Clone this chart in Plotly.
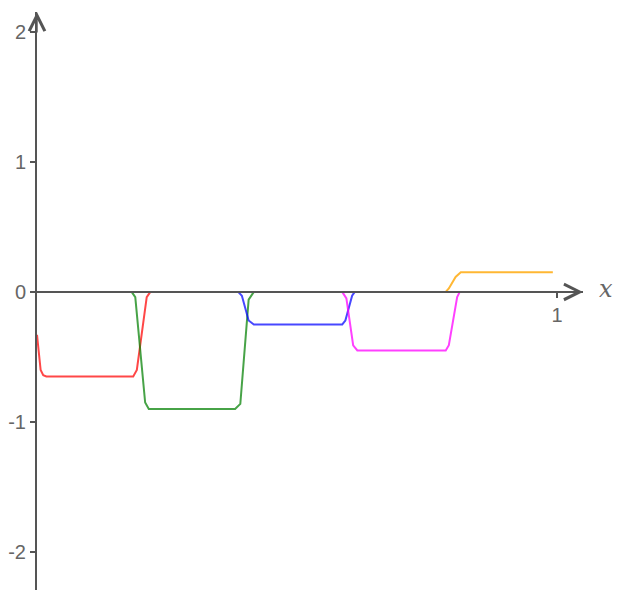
import plotly.graph_objects as go

# ---- data ----
red_x = [0.0, 0.007, 0.012, 0.018, 0.185, 0.192, 0.211, 0.218]
red_y = [-0.33, -0.60, -0.64, -0.65, -0.65, -0.60, -0.04, 0.0]

green_x = [0.182, 0.189, 0.208, 0.215, 0.381, 0.391, 0.407, 0.417]
green_y = [0.0, -0.04, -0.85, -0.9, -0.9, -0.86, -0.06, 0.0]

blue_x = [0.387, 0.394, 0.407, 0.417, 0.587, 0.593, 0.606, 0.611]
blue_y = [0.0, -0.03, -0.22, -0.25, -0.25, -0.22, -0.03, 0.0]

magenta_x = [0.587, 0.595, 0.608, 0.616, 0.786, 0.792, 0.808, 0.813]
magenta_y = [0.0, -0.05, -0.41, -0.45, -0.45, -0.41, -0.04, 0.0]

orange_x = [0.786, 0.792, 0.805, 0.815, 0.992]
orange_y = [0.0, 0.026, 0.115, 0.15, 0.15]

y_ticks = [-2, -1, 0, 1, 2]
x_ticks = [1]

x_range = [0, 1.05]
y_range = [-2.29, 2.15]

series = [
    (red_x, red_y, "rgba(255,0,0,0.72)"),
    (green_x, green_y, "rgba(0,128,0,0.72)"),
    (blue_x, blue_y, "rgba(0,0,255,0.72)"),
    (magenta_x, magenta_y, "rgba(255,0,255,0.75)"),
    (orange_x, orange_y, "rgba(255,165,0,0.8)"),
]

fig = go.Figure()
for xs, ys, col in series:
    fig.add_trace(go.Scatter(x=xs, y=ys, mode="lines",
                             line=dict(color=col, width=2),
                             showlegend=False, hoverinfo="skip"))

axis_col = "#555555"
tick_font = dict(family="Liberation Sans, Arial, sans-serif", size=20, color="#666666")

# position of y=0 in paper fraction for the free x axis
zero_frac = (0 - y_range[0]) / (y_range[1] - y_range[0])

# the page body adds an 8px margin, so the figure is sized to fit the window
fig.update_layout(
    width=614, height=596,
    margin=dict(l=29, r=39, t=4, b=14, autoexpand=False),
    paper_bgcolor="white", plot_bgcolor="white",
    xaxis=dict(range=x_range, anchor="free", position=zero_frac,
               automargin=False,
               showgrid=False, zeroline=False,
               showline=True, linecolor=axis_col, linewidth=2,
               tickmode="array", tickvals=x_ticks, ticktext=["1"],
               ticks="outside", ticklen=5, tickwidth=2, tickcolor=axis_col,
               tickfont=tick_font),
    yaxis=dict(range=y_range, anchor="x", automargin=False,
               showgrid=False, zeroline=False,
               showline=True, linecolor=axis_col, linewidth=2,
               tickmode="array", tickvals=y_ticks,
               ticktext=[str(v) for v in y_ticks],
               ticks="outside", ticklen=5, tickwidth=2, tickcolor=axis_col,
               tickfont=tick_font),
)

# arrowheads on the axes
fig.add_annotation(x=0, y=y_range[1], xref="x", yref="y", ax=0, ay=22,
                   text="", showarrow=True, arrowhead=5, arrowsize=2.2,
                   arrowwidth=1.4, arrowcolor=axis_col)
fig.add_annotation(x=x_range[1], y=0, xref="x", yref="y", ax=-22, ay=0,
                   text="", showarrow=True, arrowhead=5, arrowsize=2.2,
                   arrowwidth=1.4, arrowcolor=axis_col)
# axis label
fig.add_annotation(x=x_range[1], y=0, xref="x", yref="y", xanchor="center",
                   yanchor="middle", xshift=23, yshift=3, showarrow=False,
                   text="<i>x</i>",
                   font=dict(family="DejaVu Serif, serif", size=24, color="#666666"))

fig.write_html("out.html")
